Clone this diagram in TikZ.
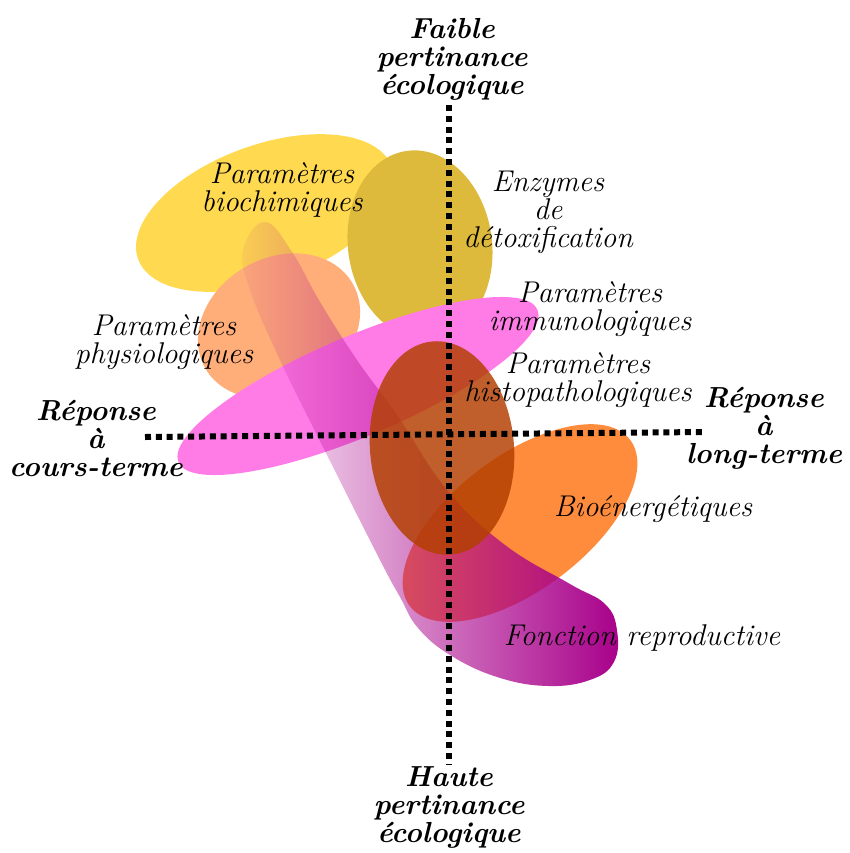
\documentclass[tikz,border=0pt]{standalone}
\usepackage{tikz}
\usetikzlibrary{fadings}

\definecolor{biochyellow}{RGB}{255,217,80}
\definecolor{enzgold}{RGB}{221,185,60}
\definecolor{physiopeach}{RGB}{255,174,122}
\definecolor{immunopink}{RGB}{255,123,230}
\definecolor{bioenorange}{RGB}{255,140,60}
\definecolor{repropurple}{RGB}{168,0,138}
\definecolor{histobrown}{RGB}{179,63,0}

\tikzfading[name=reprofade, left color=transparent!95, right color=transparent!0]

\tikzset{
  lbl/.style={font=\fontsize{15}{14}\selectfont\itshape, align=center},
  axlbl/.style={font=\fontsize{14.5}{14}\selectfont\bfseries\itshape, align=center},
  axisline/.style={line width=3pt, dash pattern=on 3pt off 2.4pt},
}

\begin{document}
\begin{tikzpicture}[x=0.5pt,y=-0.5pt]
\useasboundingbox (0,0) rectangle (850,853);

% Domains
\fill[biochyellow, rotate around={20:(265,213)}] (265,213) ellipse [x radius=135, y radius=68];
\fill[enzgold, rotate around={8:(420,245)}] (420,245) ellipse [x radius=72, y radius=95];
\fill[physiopeach, rotate around={30:(279,326)}] (279,326) ellipse [x radius=85, y radius=68];
\fill[immunopink, rotate around={23:(358,386)}] (358,386) ellipse [x radius=195, y radius=50];
\fill[bioenorange, rotate around={37:(520,523)}] (520,523) ellipse [x radius=138, y radius=67];

% Reproduction (faded blob)
\fill[repropurple, path fading=reprofade] plot[smooth cycle, tension=0.7] coordinates {
  (265,222) (292,252) (320,302) (357,360) (397,415) (447,490) (505,545)
  (570,584) (605,604) (617,630) (614,662) (590,680) (547,686) (497,677)
  (450,655) (418,628) (400,597) (380,560) (323,447) (280,360) (250,290) (243,250)};

\fill[histobrown, fill opacity=0.83, rotate around={5:(442,448)}] (442,448) ellipse [x radius=72, y radius=107];

% Axes
\coordinate (ytop) at (449,105);
\coordinate (ybot) at (449,765);
\coordinate (xleft) at (145,437);
\coordinate (xright) at (705,432);
\draw[axisline] (ytop) -- (ybot);
\draw[axisline] (xleft) -- (xright);

% Axis labels
\node[axlbl] (faible) at (452,59) {Faible\\pertinance\\écologique};
\node[axlbl] (haute) at (449,807) {Haute\\pertinance\\écologique};
\node[axlbl] (court) at (96,438) {Réponse\\à\\cours-terme};
\node[axlbl] (long) at (764,428) {Réponse\\à\\long-terme};

% Domain labels
\node[lbl] (biochim) at (282,190) {Paramètres\\biochimiques};
\node[lbl] (enzymes) at (548,212) {Enzymes\\de\\détoxification};
\node[lbl] (immuno) at (590,309) {Paramètres\\immunologiques};
\node[lbl] (physio) at (164,342) {Paramètres\\physiologiques};
\node[lbl] (histo) at (578,380) {Paramètres\\histopathologiques};
\node[lbl] (bioener) at (653,509) {Bioénergétiques};
\node[lbl] (repro) at (642,638) {Fonction reproductive};

\end{tikzpicture}
\end{document}
